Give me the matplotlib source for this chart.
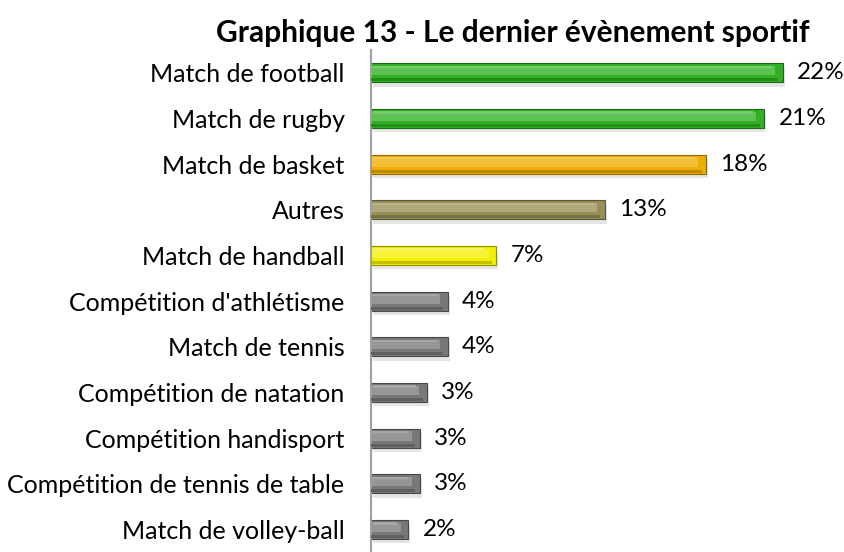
import matplotlib.pyplot as plt
from matplotlib.colors import to_rgb

categories = [
    "Match de football",
    "Match de rugby",
    "Match de basket",
    "Autres",
    "Match de handball",
    "Compétition d'athlétisme",
    "Match de tennis",
    "Compétition de natation",
    "Compétition handisport",
    "Compétition de tennis de table",
    "Match de volley-ball",
]
values = [22.0, 21.0, 17.9, 12.5, 6.7, 4.1, 4.1, 3.0, 2.6, 2.6, 2.0]
bar_colors = ["#30b022", "#30b022", "#eeae00", "#978f57", "#f2ee00",
              "#787878", "#787878", "#787878", "#787878", "#787878", "#787878"]


def shade(c, f):
    r, g, b = to_rgb(c)
    if f > 0:
        return (r + (1 - r) * f, g + (1 - g) * f, b + (1 - b) * f)
    return (r * (1 + f), g * (1 + f), b * (1 + f))


plt.rcParams['font.family'] = ['Lato', 'DejaVu Sans']

fig = plt.figure(figsize=(8.45, 5.52), dpi=100)
ax = fig.add_axes([371 / 845, -9 / 552, 454 / 845, 511 / 552])

y = list(range(len(categories)))
h = 0.41
# soft shadow under bars
ax.barh([v + 0.1 for v in y], values, height=h, left=0.1,
        color="#000000", alpha=0.10, linewidth=0, zorder=1)
# main bar
ax.barh(y, values, height=h, color=bar_colors,
        edgecolor=[shade(c, -0.4) for c in bar_colors], linewidth=0.8, zorder=2)
# bevel: lighter upper band, thin top line, darker bottom band
ax.barh([v - 0.05 for v in y], [max(v - 0.5, 0) for v in values], height=h * 0.5,
        left=0.08, color=[shade(c, 0.22) for c in bar_colors], linewidth=0, zorder=3)
ax.barh([v - 0.13 for v in y], [max(v - 0.7, 0) for v in values], height=h * 0.12,
        left=0.1, color=[shade(c, 0.35) for c in bar_colors], linewidth=0, zorder=3)
ax.barh([v + 0.15 for v in y], [max(v - 0.25, 0) for v in values], height=h * 0.16,
        left=0.0, color=[shade(c, -0.2) for c in bar_colors], linewidth=0, zorder=3)

for yi, v in zip(y, values):
    ax.text(v + 0.75, yi, f"{int(v + 0.5)}%", va="center", ha="left", fontsize=17.5)

ax.set_xlim(0, 454 / 18.73)
ax.set_ylim(10.5 + 0.19, -0.5)
ax.set_yticks(y)
ax.set_yticklabels(categories, fontsize=18)
ax.tick_params(axis="y", length=0, pad=19)
ax.set_xticks([])
for s in ["top", "right", "bottom"]:
    ax.spines[s].set_visible(False)
ax.spines["left"].set_color("#a0a0a0")
ax.spines["left"].set_linewidth(1.5)

fig.text(513 / 845, 1 - 33 / 552, "Graphique 13 - Le dernier évènement sportif",
         ha="center", va="center", fontsize=21.5, fontweight="bold")

fig.savefig("out.png", dpi=100)
